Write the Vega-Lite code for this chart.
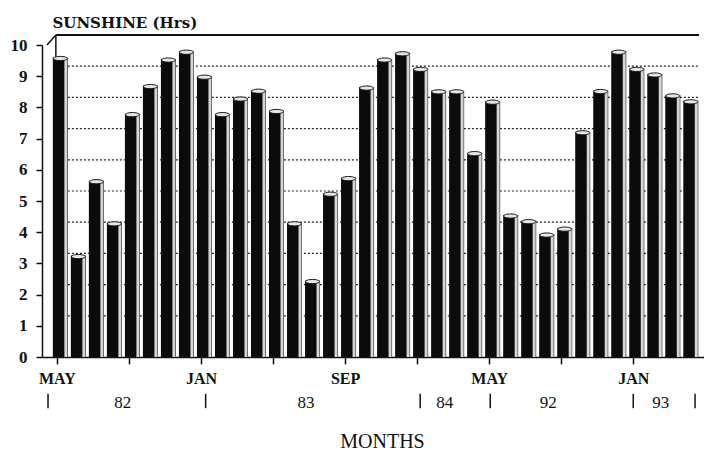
{
  "$schema": "https://vega.github.io/schema/vega-lite/v6.json",
  "width": 662,
  "height": 312,
  "autosize": {"type": "none"},
  "padding": {"left": 42, "top": 45, "right": 0, "bottom": 93},
  "background": "white",
  "config": {"view": {"stroke": null}, "font": "Liberation Serif"},
  "resolve": {"axis": {"y": "independent"}},
  "data": {"values": [
    {"m": 1, "month": "1982-05", "hrs": 9.6},
    {"m": 2, "month": "1982-06", "hrs": 3.25},
    {"m": 3, "month": "1982-07", "hrs": 5.65},
    {"m": 4, "month": "1982-08", "hrs": 4.3},
    {"m": 5, "month": "1982-09", "hrs": 7.8},
    {"m": 6, "month": "1982-10", "hrs": 8.7},
    {"m": 7, "month": "1982-11", "hrs": 9.55},
    {"m": 8, "month": "1982-12", "hrs": 9.8},
    {"m": 9, "month": "1983-01", "hrs": 9.0},
    {"m": 10, "month": "1983-02", "hrs": 7.8},
    {"m": 11, "month": "1983-03", "hrs": 8.3},
    {"m": 12, "month": "1983-04", "hrs": 8.55},
    {"m": 13, "month": "1983-05", "hrs": 7.9},
    {"m": 14, "month": "1983-06", "hrs": 4.3},
    {"m": 15, "month": "1983-07", "hrs": 2.45},
    {"m": 16, "month": "1983-08", "hrs": 5.25},
    {"m": 17, "month": "1983-09", "hrs": 5.75},
    {"m": 18, "month": "1983-10", "hrs": 8.65},
    {"m": 19, "month": "1983-11", "hrs": 9.55},
    {"m": 20, "month": "1983-12", "hrs": 9.75},
    {"m": 21, "month": "1984-01", "hrs": 9.25},
    {"m": 22, "month": "1984-02", "hrs": 8.53},
    {"m": 23, "month": "1984-03", "hrs": 8.53},
    {"m": 24, "month": "1984-04", "hrs": 6.55},
    {"m": 25, "month": "1992-05", "hrs": 8.2},
    {"m": 26, "month": "1992-06", "hrs": 4.55},
    {"m": 27, "month": "1992-07", "hrs": 4.37},
    {"m": 28, "month": "1992-08", "hrs": 3.94},
    {"m": 29, "month": "1992-09", "hrs": 4.13},
    {"m": 30, "month": "1992-10", "hrs": 7.22},
    {"m": 31, "month": "1992-11", "hrs": 8.54},
    {"m": 32, "month": "1992-12", "hrs": 9.8},
    {"m": 33, "month": "1993-01", "hrs": 9.25},
    {"m": 34, "month": "1993-02", "hrs": 9.07},
    {"m": 35, "month": "1993-03", "hrs": 8.4},
    {"m": 36, "month": "1993-04", "hrs": 8.21}
  ]},
  "layer": [
    {
      "data": {"values": [{"g": 1}, {"g": 2}, {"g": 3}, {"g": 4}, {"g": 5}, {"g": 6}, {"g": 7}, {"g": 8}, {"g": 9}]},
      "mark": {"type": "rule", "color": "#222", "strokeWidth": 1.2, "strokeDash": [2, 2], "yOffset": -10},
      "encoding": {
        "y": {"field": "g", "type": "quantitative", "scale": {"domain": [0, 10], "nice": false}, "axis": null},
        "x": {"datum": 0.945, "type": "quantitative", "scale": {"domain": [0.453, 36.65], "nice": false, "zero": false}},
        "x2": {"datum": 36.65}
      }
    },
    {
      "data": {"values": [{}]},
      "mark": {"type": "rule", "color": "#111", "strokeWidth": 2, "yOffset": -10},
      "encoding": {
        "y": {"datum": 10, "type": "quantitative", "axis": null},
        "x": {"datum": 0.945, "type": "quantitative"},
        "x2": {"datum": 36.65}
      }
    },
    {
      "data": {"values": [{}]},
      "mark": {"type": "rule", "color": "#111", "strokeWidth": 1.5},
      "encoding": {
        "y": {"datum": 10, "type": "quantitative", "axis": null},
        "y2": {"datum": 10.32},
        "x": {"datum": 0.453, "type": "quantitative"},
        "x2": {"datum": 0.945}
      }
    },
    {
      "data": {"values": [{}]},
      "mark": {"type": "rule", "color": "#111", "strokeWidth": 1.5},
      "encoding": {
        "y": {"datum": 0.32, "type": "quantitative", "axis": null},
        "y2": {"datum": 10.32},
        "x": {"datum": 0.945, "type": "quantitative"}
      }
    },
    {
      "mark": {"type": "bar", "width": 15, "color": "#0b0b0b", "xOffset": 3.5},
      "encoding": {
        "x": {"field": "m", "type": "quantitative",
          "scale": {"domain": [0.453, 36.65], "nice": false, "zero": false},
          "axis": {
            "values": [1,2,3,4,5,6,7,8,9,10,11,12,13,14,15,16,17,18,19,20,21,22,23,24,25,26,27,28,29,30,31,32,33,34,35,36],
            "labelExpr": "datum.value==1||datum.value==25?'MAY':datum.value==9||datum.value==33?'JAN':datum.value==17?'SEP':''",
            "labelOverlap": false, "labelFlush": false, "labelBound": false,
            "tickSize": 7, "tickColor": "#111", "tickWidth": 1.5,
            "domainColor": "#111", "domainWidth": 1.5,
            "labelFont": "Liberation Serif", "labelFontWeight": "bold", "labelFontSize": 16, "labelColor": "#111", "labelPadding": 6,
            "grid": false,
            "title": "MONTHS", "titleFont": "Liberation Serif", "titleFontWeight": "normal", "titleFontSize": 20, "titleColor": "#111",
            "titleX": 340, "titleY": 90, "titleBaseline": "alphabetic", "titleAlign": "center"
          }
        },
        "y": {"field": "hrs", "type": "quantitative", "scale": {"domain": [0, 10], "nice": false},
          "axis": {
            "values": [0,1,2,3,4,5,6,7,8,9,10],
            "labelOverlap": false, "labelFlush": false, "labelBound": false,
            "tickSize": 6, "tickColor": "#111", "tickWidth": 1.5,
            "domainColor": "#111", "domainWidth": 1.5,
            "labelFont": "Liberation Serif", "labelFontWeight": "bold", "labelFontSize": 17, "labelColor": "#111", "labelPadding": 9,
            "grid": false,
            "title": "SUNSHINE (Hrs)", "titleAngle": 0, "titleX": 10, "titleY": -18, "titleAlign": "left", "titleBaseline": "alphabetic",
            "titleFont": "DejaVu Serif", "titleFontWeight": "bold", "titleFontSize": 15, "titleColor": "#111"
          }
        }
      }
    },
    {
      "mark": {"type": "bar", "width": 3, "color": "#d6d6d6", "xOffset": 9},
      "encoding": {
        "x": {"field": "m", "type": "quantitative"},
        "y": {"field": "hrs", "type": "quantitative", "axis": null}
      }
    },
    {
      "mark": {"type": "point", "shape": "M -1 0 A 1 0.3 0 1 0 1 0 A 1 0.3 0 1 0 -1 0 Z", "size": 196, "filled": true, "fill": "#e6e6e6", "stroke": "#111", "strokeWidth": 1, "opacity": 1, "xOffset": 3.5, "yOffset": 1},
      "encoding": {
        "x": {"field": "m", "type": "quantitative"},
        "y": {"field": "hrs", "type": "quantitative", "axis": null}
      }
    },
    {
      "data": {"values": [
        {"m": 0.51}, {"m": 9.26}, {"m": 21.17}, {"m": 25.06}, {"m": 33.0}, {"m": 36.43}
      ]},
      "mark": {"type": "rule", "color": "#111", "strokeWidth": 1.5},
      "encoding": {
        "x": {"field": "m", "type": "quantitative"},
        "y": {"datum": -1.18, "type": "quantitative", "axis": null},
        "y2": {"datum": -1.64}
      }
    },
    {
      "data": {"values": [
        {"m": 4.66, "label": "82"},
        {"m": 14.83, "label": "83"},
        {"m": 22.54, "label": "84"},
        {"m": 28.28, "label": "92"},
        {"m": 34.52, "label": "93"}
      ]},
      "mark": {"type": "text", "font": "Liberation Serif", "fontSize": 17, "baseline": "alphabetic", "align": "center", "color": "#111"},
      "encoding": {
        "x": {"field": "m", "type": "quantitative"},
        "y": {"datum": -1.635, "type": "quantitative", "axis": null},
        "text": {"field": "label"}
      }
    }
  ]
}
